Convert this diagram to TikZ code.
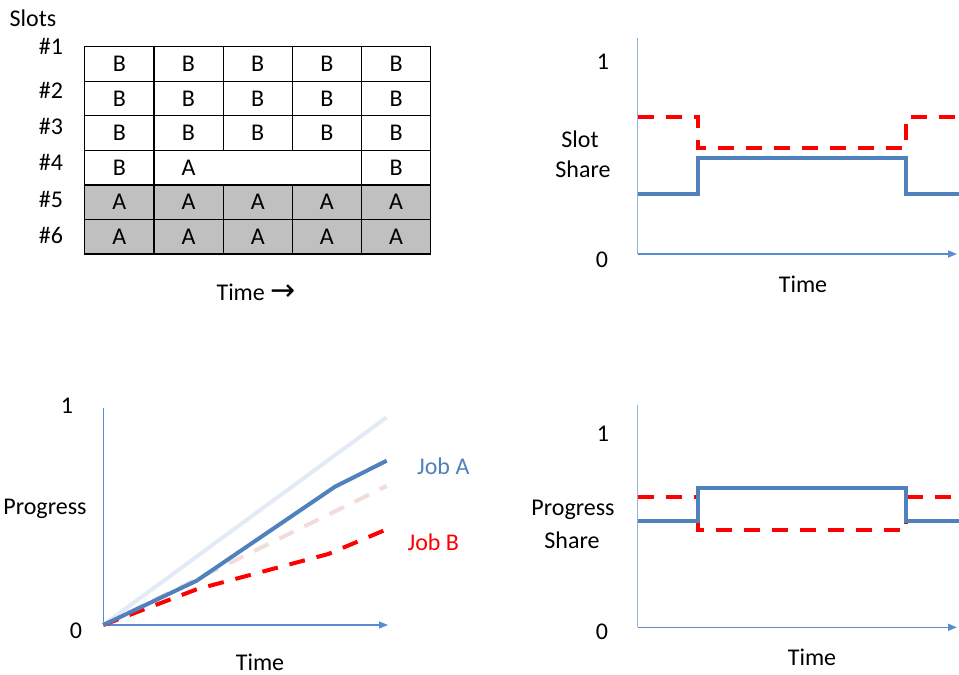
\documentclass[tikz,border=0pt]{standalone}
\usepackage{fontspec}
\setmainfont{Carlito}
\newfontfamily\arrowfont{DejaVu Sans}
\usetikzlibrary{arrows.meta}
\definecolor{jobblue}{HTML}{4F81BD}
\definecolor{axblue}{HTML}{5B8BD0}
\definecolor{axlight}{HTML}{95B3D7}
\definecolor{jobred}{HTML}{FF0000}
\definecolor{ghostblue}{HTML}{E2EAF5}
\definecolor{ghostred}{HTML}{F2DCDB}
\definecolor{cellgray}{HTML}{C0C0C0}
\tikzset{
  txt/.style={font=\fontsize{24}{28}\selectfont, inner sep=0pt},
  cell/.style={draw=black, line width=1.2pt, minimum width=69.2pt, minimum height=34.55pt, inner sep=0pt, outer sep=0pt, font=\fontsize{24}{28}\selectfont},
  graycell/.style={cell, fill=cellgray},
  axisline/.style={draw=axblue, line width=1.5pt},
  axisarrow/.style={axisline, -{Triangle[length=9pt,width=7pt]}},
  bluejob/.style={draw=jobblue, line width=4pt},
  redjob/.style={draw=jobred, line width=4pt, dash pattern=on 16pt off 12pt},
  ghostb/.style={draw=ghostblue, line width=4pt},
  ghostr/.style={draw=ghostred, line width=4pt, dash pattern=on 16pt off 12pt},
}
\begin{document}
\begin{tikzpicture}[x=1pt,y=-1pt]
\useasboundingbox (0,0) rectangle (959,675);
% ---------------- Table ----------------
\node[txt] (slots) at (33,18) {Slots};
\foreach \r/\y/\ly in {1/64/46,2/98.55/90,3/133.1/126,4/167.65/162,5/202.2/199,6/236.75/235}{
  \node[txt] (lab\r) at (51,\ly) {\#\r};
}
\foreach \r/\y in {1/64,2/98.55,3/133.1}{
  \foreach \c/\x in {1/119.3,2/188.5,3/257.7,4/326.9,5/396.1}{
    \node[cell] (c\r\c) at (\x,\y) {B};
  }
}
\node[cell] (c41) at (119.3,167.65) {B};
\node[cell, minimum width=207.6pt] (c42) at (257.7,167.65) {};
\node[txt] (c42a) at (188.5,167.65) {A};
\node[cell] (c45) at (396.1,167.65) {B};
\foreach \r/\y in {5/202.2,6/236.75}{
  \foreach \c/\x in {1/119.3,2/188.5,3/257.7,4/326.9,5/396.1}{
    \node[graycell] (c\r\c) at (\x,\y) {A};
  }
}
\node[txt] (time1) at (256,292) {Time {\arrowfont\fontsize{30}{30}\selectfont →}};
% ---------------- Top-right: Slot Share ----------------
\coordinate (o2) at (637.7,254);
\coordinate (t2) at (637.7,38);
\coordinate (r2) at (957,254);
\draw[axisline, draw=axlight] (o2) -- (t2);
\draw[axisarrow] (o2) -- (r2);
\node[txt] (one2) at (603,62) {1};
\node[txt] (zero2) at (602,260) {0};
\node[txt] (ss1) at (580,139) {Slot};
\node[txt] (ss2) at (583,169) {Share};
\node[txt] (time2) at (803,284) {Time};
\draw[redjob] (637.7,116.7) -- (698.3,116.7) -- (698.3,148.3) -- (906,148.3) -- (906,116.7) -- (959,116.7);
\draw[bluejob] (637.7,194.3) -- (698.3,194.3) -- (698.3,157.7) -- (906,157.7) -- (906,194.3) -- (959,194.3);
% ---------------- Bottom-left: Progress ----------------
\coordinate (o3) at (103.3,625);
\coordinate (t3) at (103.3,408);
\coordinate (r3) at (388,625);
\draw[axisline] (o3) -- (t3);
\draw[axisarrow] (o3) -- (r3);
\node[txt] (one3) at (67,406) {1};
\node[txt] (zero3) at (76,631) {0};
\node[txt] (prog3) at (45,509) {Progress};
\node[txt] (time3) at (260,662) {Time};
\draw[ghostb] (o3) -- (386.7,417.3);
\draw[ghostr] (o3) -- (386.7,486);
\draw[redjob] (o3) -- (196.7,589.3) -- (328.3,554) -- (386.7,529.3);
\draw[bluejob] (o3) -- (196.7,580.7) -- (335,486.7) -- (386.7,460.7);
\node[txt, text=jobblue] (joba) at (443.3,466) {Job A};
\node[txt, text=jobred] (jobb) at (433.3,542) {Job B};
% ---------------- Bottom-right: Progress Share ----------------
\coordinate (o4) at (637.7,627.3);
\coordinate (t4) at (637.7,405);
\coordinate (r4) at (957,627.3);
\draw[axisline, draw=axlight] (o4) -- (t4);
\draw[axisarrow] (o4) -- (r4);
\node[txt] (one4) at (603,434) {1};
\node[txt] (zero4) at (602,632) {0};
\node[txt] (ps1) at (573,510) {Progress};
\node[txt] (ps2) at (572,540) {Share};
\node[txt] (time4) at (812,657) {Time};
\draw[redjob] (637.7,496.7) -- (698.3,496.7) -- (698.3,530) -- (906,530) -- (906,496.7) -- (959,496.7);
\draw[bluejob] (637.7,521) -- (698.3,521) -- (698.3,487.7) -- (906,487.7) -- (906,521) -- (959,521);
\end{tikzpicture}
\end{document}
